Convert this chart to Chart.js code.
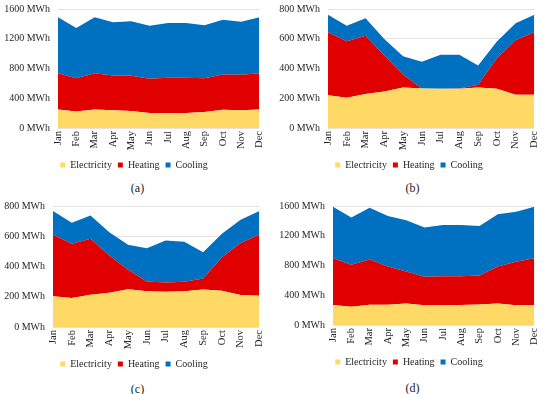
<!DOCTYPE html>
<html>
<head>
<meta charset="utf-8">
<script src="https://cdn.jsdelivr.net/npm/chart.js@4.4.1/dist/chart.umd.min.js"></script>
<style>
  body { margin: 0; background: #fff; width: 550px; height: 394px; position: relative; overflow: hidden; font-family: "Liberation Serif", "Times New Roman", serif; }
  .panel { position: absolute; width: 275px; height: 197px; }
  .panel canvas { position: absolute; left: 0; top: -5px; }
  .cap { position: absolute; left: 0; width: 275px; top: 181px; text-align: center; font-size: 12px; color: #222; }
</style>
</head>
<body>
<div class="panel" style="left:0;top:0"><canvas id="chartA" width="275" height="185"></canvas><div class="cap">(a)</div></div>
<div class="panel" style="left:275px;top:0"><canvas id="chartB" width="275" height="185"></canvas><div class="cap">(b)</div></div>
<div class="panel" style="left:0;top:197px"><canvas id="chartC" width="275" height="187"></canvas><div class="cap" style="top:185px">(c)</div></div>
<div class="panel" style="left:275px;top:197px"><canvas id="chartD" width="275" height="185"></canvas><div class="cap" style="top:184px">(d)</div></div>

<script>
// Monthly energy demand, MWh (stacked areas)
const months = ['Jan', 'Feb', 'Mar', 'Apr', 'May', 'Jun', 'Jul', 'Aug', 'Sep', 'Oct', 'Nov', 'Dec'];

// (a)
const elecA = [250, 223, 250, 237, 228, 201, 201, 201, 215, 246, 237, 250];
const heatA = [487, 447, 487, 469, 474, 460, 474, 474, 455, 474, 478, 487];
const coolA = [751, 675, 751, 715, 733, 715, 737, 737, 711, 737, 715, 751];

// (b)
const elecB = [221, 203, 228, 246, 273, 266, 264, 264, 273, 264, 223, 223];
const heatB = [423, 380, 393, 241, 87, 0, 0, 1, 18, 205, 369, 421];
const coolB = [118, 105, 116, 112, 123, 179, 228, 228, 129, 112, 112, 118];

// (c)
const elecC = [204, 191, 213, 226, 250, 237, 233, 237, 248, 239, 211, 206];
const heatC = [408, 359, 370, 246, 129, 64, 62, 62, 73, 222, 345, 406];
const coolC = [155, 139, 155, 155, 164, 220, 277, 264, 173, 155, 153, 155];

// (d)
const elecD = [268, 246, 273, 273, 290, 264, 264, 268, 277, 290, 264, 268];
const heatD = [630, 563, 607, 514, 430, 384, 393, 389, 389, 497, 585, 630];
const coolD = [693, 635, 698, 679, 688, 662, 688, 688, 666, 701, 675, 693];

const serif = '"Liberation Serif", "Times New Roman", serif';
const textColor = '#262626';

function makeChart(id, elec, heat, cool, yMax, yStep, axisWidth) {
    const ctx = document.getElementById(id).getContext('2d');
    return new Chart(ctx, {
        type: 'line',
        data: {
            labels: months,
            datasets: [
                { label: 'Electricity', data: elec, backgroundColor: '#FFD966', borderColor: '#FFD966', fill: 'origin' },
                { label: 'Heating', data: heat, backgroundColor: '#E00000', borderColor: '#E00000', fill: '-1' },
                { label: 'Cooling', data: cool, backgroundColor: '#0070C0', borderColor: '#0070C0', fill: '-1' }
            ]
        },
        options: {
            responsive: false,
            animation: false,
            elements: {
                line: { borderWidth: 0, tension: 0 },
                point: { radius: 0 }
            },
            layout: { padding: { top: 3, right: 7, left: 0, bottom: 0 } },
            plugins: {
                legend: {
                    position: 'bottom',
                    labels: {
                        boxWidth: 5,
                        boxHeight: 5,
                        padding: 6,
                        color: textColor,
                        font: { family: serif, size: 10 }
                    }
                },
                tooltip: { enabled: false }
            },
            scales: {
                x: {
                    grid: { display: false, drawTicks: false },
                    border: { display: false },
                    ticks: {
                        minRotation: 90,
                        maxRotation: 90,
                        autoSkip: false,
                        padding: 3,
                        color: textColor,
                        font: { family: serif, size: 10.5 }
                    },
                    afterFit: function(scale) { scale.height = 26; }
                },
                y: {
                    stacked: true,
                    min: 0,
                    max: yMax,
                    ticks: {
                        stepSize: yStep,
                        padding: 8,
                        color: textColor,
                        font: { family: serif, size: 10 },
                        callback: function(value) { return value + ' MWh'; }
                    },
                    grid: { color: '#e3e3e3', drawTicks: false },
                    border: { display: false },
                    afterFit: function(scale) { scale.width = axisWidth; }
                }
            }
        }
    });
}

makeChart('chartA', elecA, heatA, coolA, 1600, 400, 58);
makeChart('chartB', elecB, heatB, coolB, 800, 200, 53);
makeChart('chartC', elecC, heatC, coolC, 800, 200, 53);
makeChart('chartD', elecD, heatD, coolD, 1600, 400, 58);
</script>
</body>
</html>
